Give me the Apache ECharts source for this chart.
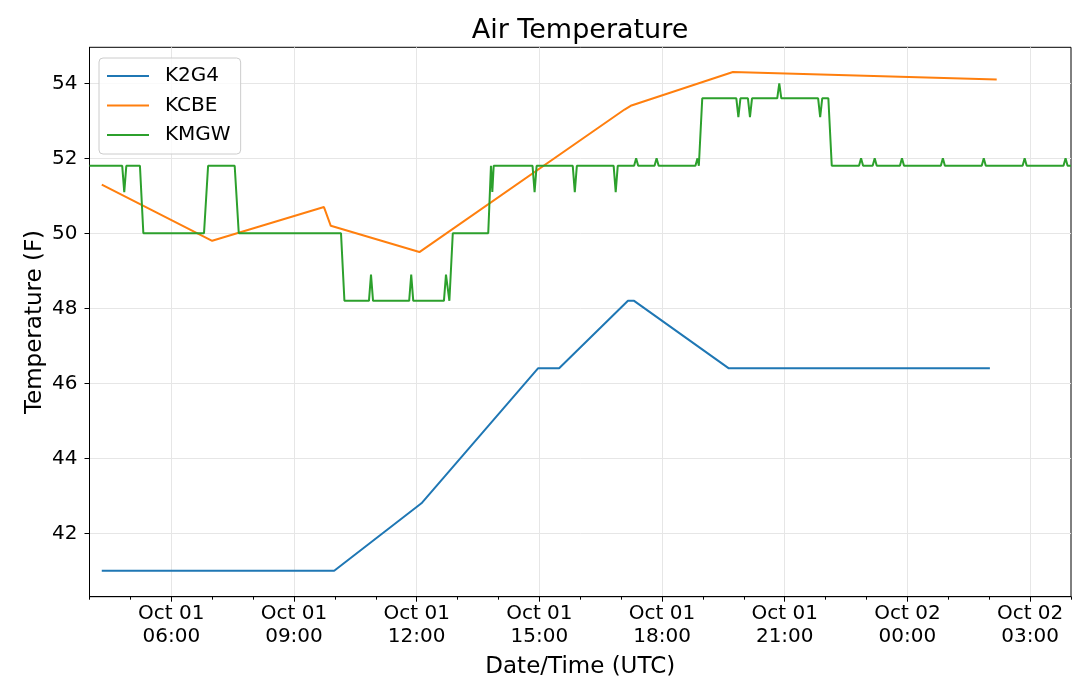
<!DOCTYPE html>
<html lang="en">
<head>
<meta charset="UTF-8">
<title>Air Temperature</title>
<script src="https://cdn.jsdelivr.net/npm/echarts@6/dist/echarts.min.js"></script>
<style>
    html, body { margin: 0; padding: 0; background: #ffffff; }
    #chart { width: 1080px; height: 678px; }
</style>
</head>
<body>
<div id="chart"></div>
<script>
// station observations, times in UTC ("MM-DD HH:MM"), temperatures in F
var k2g4Times = ['10-01 04:18', '10-01 09:59', '10-01 12:07', '10-01 14:58', '10-01 15:29',
                 '10-01 17:10', '10-01 17:19', '10-01 19:38', '10-02 02:01'];
var k2g4Temps = [41.0, 41.0, 42.8, 46.4, 46.4, 48.2, 48.2, 46.4, 46.4];

var kcbeTimes = ['10-01 04:18', '10-01 07:00', '10-01 09:44', '10-01 09:54', '10-01 12:04',
                 '10-01 17:05', '10-01 17:14', '10-01 19:44', '10-02 02:11'];
var kcbeTemps = [51.3, 49.8, 50.7, 50.2, 49.5, 53.3, 53.4, 54.3, 54.1];

var kmgwTimes = [
    '10-01 04:00', '10-01 04:48', '10-01 04:51', '10-01 04:54', '10-01 05:14', '10-01 05:19',
    '10-01 06:48', '10-01 06:54', '10-01 07:33', '10-01 07:39', '10-01 10:09', '10-01 10:14',
    '10-01 10:50', '10-01 10:53', '10-01 10:56', '10-01 11:49', '10-01 11:52', '10-01 11:55',
    '10-01 12:40', '10-01 12:43', '10-01 12:48', '10-01 12:53', '10-01 13:45', '10-01 13:49',
    '10-01 13:51', '10-01 13:53', '10-01 14:50', '10-01 14:53', '10-01 14:56', '10-01 15:49',
    '10-01 15:52', '10-01 15:55', '10-01 16:49', '10-01 16:52', '10-01 16:55', '10-01 17:19',
    '10-01 17:22', '10-01 17:25', '10-01 17:49', '10-01 17:52', '10-01 17:55', '10-01 18:49',
    '10-01 18:52', '10-01 18:54', '10-01 18:59', '10-01 19:49', '10-01 19:52', '10-01 19:55',
    '10-01 20:06', '10-01 20:09', '10-01 20:12', '10-01 20:49', '10-01 20:52', '10-01 20:55',
    '10-01 21:49', '10-01 21:52', '10-01 21:55', '10-01 22:04', '10-01 22:09', '10-01 22:49',
    '10-01 22:52', '10-01 22:55', '10-01 23:09', '10-01 23:12', '10-01 23:15', '10-01 23:49',
    '10-01 23:52', '10-01 23:55', '10-02 00:49', '10-02 00:52', '10-02 00:55', '10-02 01:49',
    '10-02 01:52', '10-02 01:55', '10-02 02:49', '10-02 02:52', '10-02 02:55', '10-02 03:49',
    '10-02 03:52', '10-02 03:55', '10-02 04:00'
];
var kmgwTemps = [
    51.8, 51.8, 51.1, 51.8, 51.8, 50.0,
    50.0, 51.8, 51.8, 50.0, 50.0, 48.2,
    48.2, 48.9, 48.2, 48.2, 48.9, 48.2,
    48.2, 48.9, 48.2, 50.0, 50.0, 51.8,
    51.1, 51.8, 51.8, 51.1, 51.8, 51.8,
    51.1, 51.8, 51.8, 51.1, 51.8, 51.8,
    52.0, 51.8, 51.8, 52.0, 51.8, 51.8,
    52.0, 51.8, 53.6, 53.6, 53.1, 53.6,
    53.6, 53.1, 53.6, 53.6, 54.0, 53.6,
    53.6, 53.1, 53.6, 53.6, 51.8, 51.8,
    52.0, 51.8, 51.8, 52.0, 51.8, 51.8,
    52.0, 51.8, 51.8, 52.0, 51.8, 51.8,
    52.0, 51.8, 51.8, 52.0, 51.8, 51.8,
    52.0, 51.8, 51.8
];

var seriesNames = ['K2G4', 'KCBE', 'KMGW'];
var seriesColors = ['#1f77b4', '#ff7f0e', '#2ca02c'];

var xTickTimes = ['10-01 06:00', '10-01 09:00', '10-01 12:00', '10-01 15:00',
                  '10-01 18:00', '10-01 21:00', '10-02 00:00', '10-02 03:00'];
var yTicks = [42, 44, 46, 48, 50, 52, 54];
var monthNames = ['Jan', 'Feb', 'Mar', 'Apr', 'May', 'Jun', 'Jul', 'Aug', 'Sep', 'Oct', 'Nov', 'Dec'];

function toMs(s) {
    var md = s.split(' ')[0].split('-');
    var hm = s.split(' ')[1].split(':');
    return Date.UTC(2019, +md[0] - 1, +md[1], +hm[0], +hm[1]);
}
function pad(n) { return (n < 10 ? '0' : '') + n; }
function pairs(times, temps) {
    var out = [];
    for (var i = 0; i < times.length; i++) {
        out.push([toMs(times[i]), temps[i]]);
    }
    return out;
}

var xMin = toMs('10-01 04:00');
var xMax = toMs('10-02 04:00');
var xMajor = xTickTimes.map(toMs);
var xMinor = [];
for (var t = xMin; t <= xMax; t += 3600 * 1000) { xMinor.push(t); }

var font = 'DejaVu Sans';
var black = { color: '#000000', width: 1 };
var gridLine = { show: true, lineStyle: { color: '#e6e6e6', width: 1 } };

var option = {
    animation: false,
    backgroundColor: '#ffffff',
    title: {
        text: 'Air Temperature',
        left: 580, top: 17, textAlign: 'center', padding: 0,
        textStyle: { fontFamily: font, fontSize: 27, fontWeight: 'normal', color: '#000', lineHeight: 27 }
    },
    legend: {
        orient: 'vertical', left: 99, top: 58,
        data: seriesNames,
        icon: 'rect', itemWidth: 42, itemHeight: 2, itemGap: 9.5,
        padding: [8, 10, 9, 8],
        backgroundColor: 'rgba(255,255,255,0.8)',
        borderColor: '#cccccc', borderWidth: 1, borderRadius: 4,
        textStyle: { fontFamily: font, fontSize: 20, color: '#000', lineHeight: 20, padding: [0, 0, 0, 11] }
    },
    grid: {
        left: 89.5, right: 9, top: 47.3, bottom: 81.3,
        outerBoundsMode: 'none', containLabel: false,
        show: true, borderColor: '#000', borderWidth: 1, backgroundColor: 'transparent'
    },
    xAxis: [{
        type: 'value', min: xMin, max: xMax,
        axisLine: { show: true, lineStyle: black },
        axisTick: { show: true, customValues: xMajor, length: 5, lineStyle: black },
        axisLabel: {
            customValues: xMajor, margin: 5,
            fontFamily: font, fontSize: 20, lineHeight: 23.3, color: '#000',
            formatter: function (v) {
                var d = new Date(v);
                return monthNames[d.getUTCMonth()] + ' ' + pad(d.getUTCDate()) + '\n' +
                    pad(d.getUTCHours()) + ':' + pad(d.getUTCMinutes());
            }
        },
        splitLine: gridLine,
        name: 'Date/Time (UTC)', nameLocation: 'middle', nameGap: 59, nameMoveOverlap: false,
        nameTextStyle: { fontFamily: font, fontSize: 23, color: '#000', lineHeight: 23 }
    }, {
        // hourly minor ticks
        type: 'value', min: xMin, max: xMax, position: 'bottom',
        axisLine: { show: false },
        axisTick: { show: true, customValues: xMinor, length: 3, lineStyle: black },
        axisLabel: { show: false },
        splitLine: { show: false }
    }],
    yAxis: {
        type: 'value', min: 40.31, max: 54.96,
        axisLine: { show: true, lineStyle: black },
        axisTick: { show: true, customValues: yTicks, length: 5, lineStyle: black },
        axisLabel: { customValues: yTicks, margin: 12, fontFamily: font, fontSize: 20, color: '#000' },
        splitLine: gridLine,
        name: 'Temperature (F)', nameLocation: 'middle', nameGap: 43, nameRotate: 90,
        nameMoveOverlap: false,
        nameTextStyle: { fontFamily: font, fontSize: 23, color: '#000', lineHeight: 23 }
    },
    series: [
        pairs(k2g4Times, k2g4Temps),
        pairs(kcbeTimes, kcbeTemps),
        pairs(kmgwTimes, kmgwTemps)
    ].map(function (data, i) {
        return {
            name: seriesNames[i], type: 'line', data: data,
            xAxisIndex: 0, yAxisIndex: 0,
            symbol: 'none', showSymbol: false,
            lineStyle: { width: 2, color: seriesColors[i] },
            itemStyle: { color: seriesColors[i] }
        };
    })
};

var chart = echarts.init(document.getElementById('chart'));
chart.setOption(option);
</script>
</body>
</html>
